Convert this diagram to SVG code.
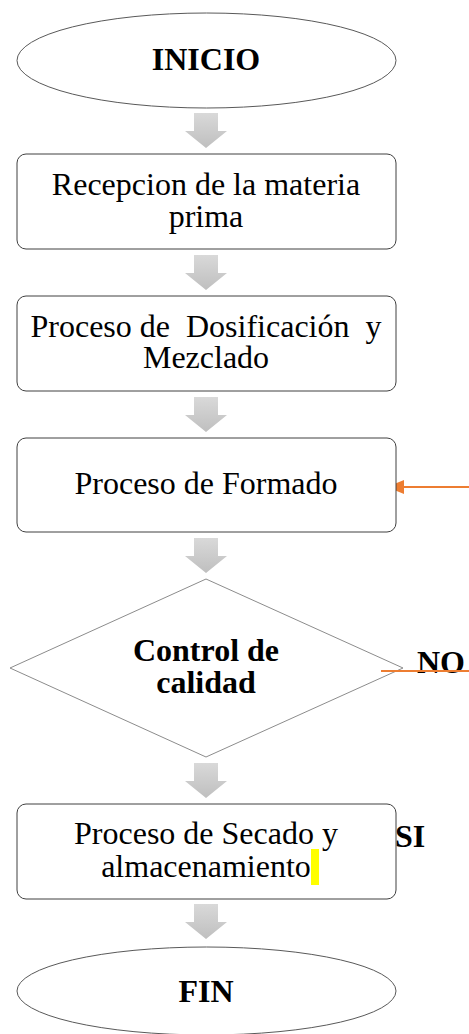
<svg xmlns="http://www.w3.org/2000/svg" width="469" height="1034" viewBox="0 0 469 1034">
<style>
.bg{fill:#ffffff}
.term{fill:#ffffff;stroke:#595959;stroke-width:1}
.box{fill:#ffffff;stroke:#404040;stroke-width:1}
.dec{fill:#ffffff;stroke:#8c8c8c;stroke-width:1}
.t{font-family:"Liberation Serif","Times New Roman",serif;font-size:32px;fill:#000000;text-anchor:middle;white-space:pre}
.b{font-weight:bold}
.l{text-anchor:start}
.orange{stroke:#ED7D31;stroke-width:2;fill:none}
</style>
<defs>
<linearGradient id="gArrow" x1="0" y1="0" x2="0" y2="1">
<stop offset="0" stop-color="#d9d9d9"/>
<stop offset="1" stop-color="#bfbfbf"/>
</linearGradient>
<path id="down" d="M-12,0 H12 V18 H21 L0,35 L-21,18 H-12 Z" fill="url(#gArrow)"/>
</defs>
<rect class="bg" x="0" y="0" width="469" height="1034"/>

<g id="connectors">
<use href="#down" x="206" y="113"/>
<use href="#down" x="206" y="255"/>
<use href="#down" x="206" y="397"/>
<use href="#down" x="206" y="538"/>
<use href="#down" x="206" y="763"/>
<use href="#down" x="206" y="904"/>
<path d="M469,487 H404" class="orange"/>
<path d="M404,480 L387,487 L404,494 Z" fill="#ED7D31"/>
</g>

<g id="label-si">
<text class="t b l" x="395" y="847">SI</text>
</g>

<g id="inicio">
<ellipse class="term" cx="206.5" cy="60.5" rx="189.5" ry="47.5"/>
<text class="t b" x="206" y="70">INICIO</text>
</g>

<g id="recepcion">
<rect class="box" x="17" y="154" width="379" height="95" rx="9"/>
<text class="t" x="206" y="195">Recepcion de la materia<tspan x="206" y="227">prima</tspan></text>
</g>

<g id="dosificacion">
<rect class="box" x="17" y="296" width="379" height="95" rx="9"/>
<text class="t" x="206" y="337">Proceso de  Dosificación  y<tspan x="206" y="368">Mezclado</tspan></text>
</g>

<g id="formado">
<rect class="box" x="17" y="438" width="379" height="94" rx="9"/>
<text class="t" x="206" y="494">Proceso de Formado</text>
</g>

<g id="control">
<polygon class="dec" points="206,579 403,668 206,757 10,668"/>
<text class="t b" x="206" y="661">Control de<tspan x="206" y="693">calidad</tspan></text>
</g>

<g id="label-no">
<text class="t b l" x="417" y="673">NO</text>
<path d="M381,671 H469" class="orange"/>
</g>

<g id="secado">
<rect class="box" x="17" y="804" width="379" height="95" rx="9"/>
<rect x="311" y="849" width="8" height="36" fill="#FFFF00"/>
<text class="t" x="206" y="844">Proceso de Secado y<tspan x="206" y="877">almacenamiento</tspan></text>
</g>

<g id="fin">
<ellipse class="term" cx="206.5" cy="991" rx="189.5" ry="44"/>
<text class="t b" x="206" y="1002">FIN</text>
</g>
</svg>
